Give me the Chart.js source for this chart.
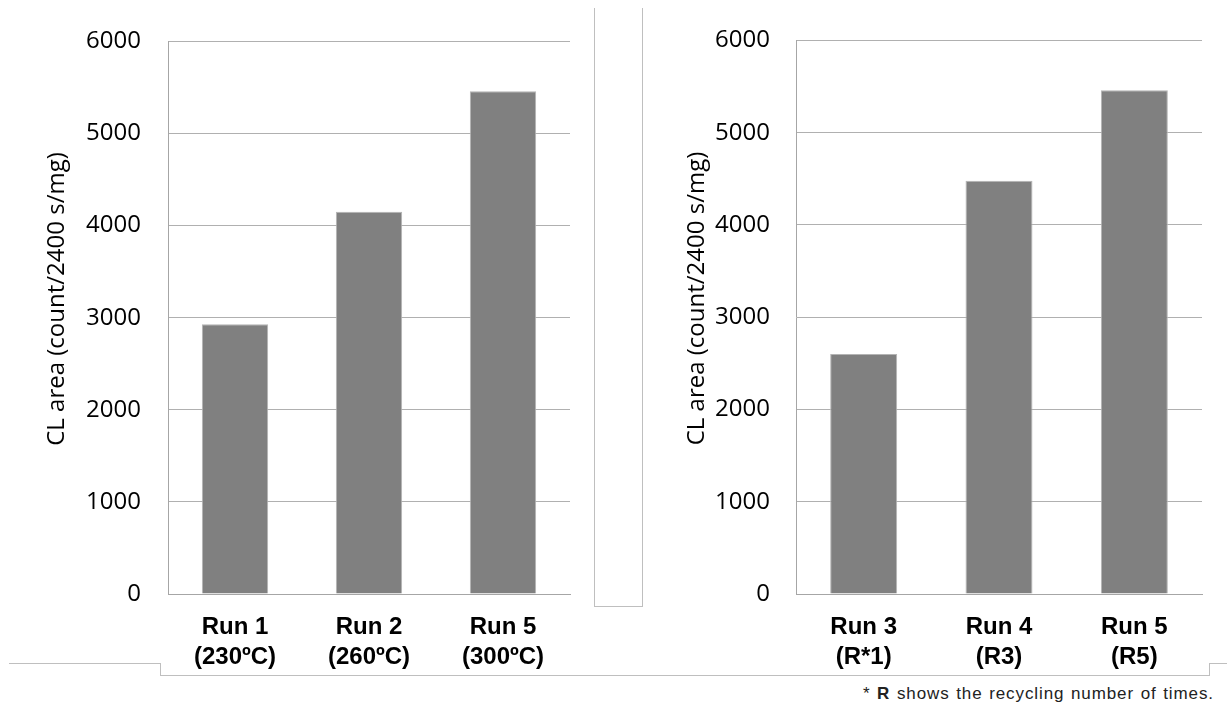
<!DOCTYPE html>
<html>
<head>
<meta charset="utf-8">
<script src="https://cdn.jsdelivr.net/npm/chart.js@4"></script>
<style>
  html, body { margin: 0; padding: 0; background: #fff; }
  body { width: 1227px; height: 704px; position: relative; overflow: hidden; }
  .box { position: absolute; }
  .line { position: absolute; border-color: #bfbfbf; border-style: solid; border-width: 0; }
  #note { position: absolute; right: 13px; top: 684px; font-family: "Liberation Sans", Arial, sans-serif; font-size: 17px; color: #222; letter-spacing: 0.9px; word-spacing: 1px; white-space: nowrap; }
</style>
</head>
<body>
<div class="box" style="left:0;top:0;width:590px;height:680px"><canvas id="leftChart"></canvas></div>
<div class="box" style="left:628px;top:0;width:599px;height:680px"><canvas id="rightChart"></canvas></div>

<!-- Trennrahmen und untere Klammer -->
<div class="line" style="left:594px;top:8px;width:47px;height:598px;border-left-width:1px;border-right-width:1px;border-bottom-width:1px"></div>
<div class="line" style="left:9px;top:663px;width:151px;height:0;border-top-width:1px"></div>
<div class="line" style="left:160px;top:663px;width:1048px;height:12px;border-left-width:1px;border-right-width:1px;border-bottom-width:1px"></div>
<div class="line" style="left:1209px;top:663px;width:18px;height:0;border-top-width:1px"></div>
<div id="note">* <b>R</b> shows the recycling number of times.</div>

<script>
// Daten linkes Diagramm (Temperatur)
const leftLabels = [['Run 1', '(230ºC)'], ['Run 2', '(260ºC)'], ['Run 5', '(300ºC)']];
const leftValues = [2930, 4150, 5460];

// Daten rechtes Diagramm (Recycling)
const rightLabels = [['Run 3', '(R*1)'], ['Run 4', '(R3)'], ['Run 5', '(R5)']];
const rightValues = [2600, 4480, 5460];

const yMin = 0;
const yMax = 6000;
const yStep = 1000;
// führende Leerzeichen schieben den zentrierten Titel etwas nach oben
const yTitle = '      CL area (count/2400 s/mg)';

function buildChart(id, labels, values, opts) {
    const ctx = document.getElementById(id).getContext('2d');
    return new Chart(ctx, {
        type: 'bar',
        data: {
            labels: labels,
            datasets: [{
                data: values,
                backgroundColor: '#808080',
                borderColor: '#b4b4b4',
                borderWidth: 1,
                categoryPercentage: 1,
                barPercentage: 0.495
            }]
        },
        options: {
            responsive: true,
            maintainAspectRatio: false,
            animation: false,
            layout: { padding: { top: 38, left: 0, right: opts.padRight, bottom: 0 } },
            plugins: {
                legend: { display: false },
                tooltip: { enabled: false }
            },
            scales: {
                x: {
                    grid: { display: false, drawTicks: false },
                    border: { display: true, color: '#a6a6a6', width: 1 },
                    ticks: {
                        color: '#000',
                        padding: 19,
                        maxRotation: 0,
                        autoSkip: false,
                        font: { family: '"Liberation Sans", Arial, sans-serif', size: 24, weight: 'bold', lineHeight: '29.5px' }
                    },
                    afterFit: scale => { scale.height = 86; }
                },
                y: {
                    min: yMin,
                    max: yMax,
                    grid: { color: '#b0b0b0', lineWidth: 1, drawTicks: false },
                    border: { display: true, color: '#a6a6a6', width: 1 },
                    ticks: {
                        stepSize: yStep,
                        color: '#000',
                        padding: opts.tickPad,
                        font: { family: '"Open Sans", sans-serif', size: 24 },
                        callback: value => String(value)
                    },
                    title: {
                        display: true,
                        text: yTitle,
                        color: '#000',
                        padding: { top: opts.titlePad, bottom: 0 },
                        font: { family: '"Open Sans", sans-serif', size: 24 }
                    },
                    afterFit: scale => { scale.width = 168; }
                }
            }
        }
    });
}

buildChart('leftChart', leftLabels, leftValues, { padRight: 20, tickPad: 27, titlePad: 43 });
buildChart('rightChart', rightLabels, rightValues, { padRight: 25, tickPad: 26, titlePad: 55 });
</script>
</body>
</html>
